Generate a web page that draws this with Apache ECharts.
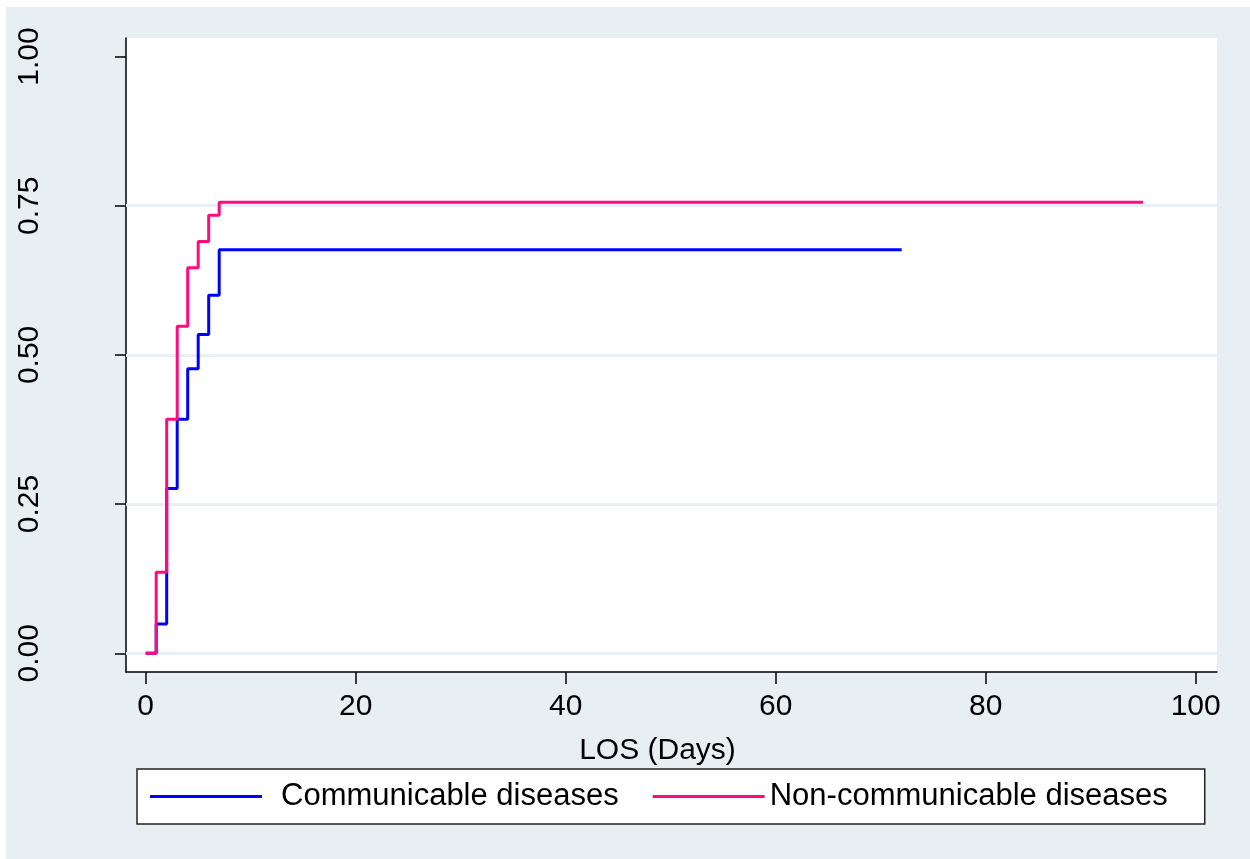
<!DOCTYPE html>
<html>
<head>
<meta charset="utf-8">
<script src="https://cdn.jsdelivr.net/npm/echarts@6/dist/echarts.min.js"></script>
<style>
  html, body { margin: 0; padding: 0; background: #fff; }
  #chart {
    width: 1250px;
    height: 859px;
    background: linear-gradient(#e8eff2, #e8eff2) 6px 7px / calc(100% - 6px) calc(100% - 7px) no-repeat, #fff;
  }
</style>
</head>
<body>
<div id="chart"></div>
<script>
// Kaplan-Meier style failure curves by disease group
const commDays = [0, 1, 2, 3, 4, 5, 6, 7, 72];
const commValues = [0, 0.049, 0.276, 0.392, 0.477, 0.534, 0.600, 0.676, 0.676];
const nonCommDays = [0, 1, 2, 3, 4, 5, 6, 7, 95];
const nonCommValues = [0, 0.136, 0.392, 0.548, 0.646, 0.690, 0.734, 0.756, 0.756];

const xTicks = [0, 20, 40, 60, 80, 100];
const yTicks = [0, 0.25, 0.5, 0.75, 1];
const gridValues = [0, 0.25, 0.5, 0.75];

const seriesNames = ['Communicable diseases', 'Non-communicable diseases'];
const colors = ['#0000ff', '#ff0a7f'];

const font = '"Liberation Sans", Arial, sans-serif';

function pairs(xs, ys) {
  return xs.map((x, i) => [x, ys[i]]);
}

const chart = echarts.init(document.getElementById('chart'), null, {renderer: 'canvas'});

const option = {
  backgroundColor: 'transparent',
  animation: false,
  textStyle: {fontFamily: font, color: '#000'},
  grid: {
    left: 126,
    right: 33,
    top: 38,
    bottom: 187,
    show: true,
    backgroundColor: '#fff',
    borderWidth: 0
  },
  legend: {
    left: 137,
    top: 769,
    orient: 'horizontal',
    icon: 'rect',
    itemWidth: 112,
    itemHeight: 3,
    itemGap: 34,
    padding: [12, 37, 12, 13],
    backgroundColor: '#fff',
    borderColor: '#222',
    borderWidth: 1.5,
    borderRadius: 0,
    textStyle: {fontSize: 31, color: '#000', fontFamily: font},
    data: [
      {name: seriesNames[0], textStyle: {padding: [0, 0, 0, 14]}},
      {name: seriesNames[1]}
    ]
  },
  xAxis: {
    type: 'value',
    min: -1.876,
    max: 102.03,
    name: 'LOS (Days)',
    nameLocation: 'middle',
    nameGap: 64,
    nameTextStyle: {fontSize: 30, color: '#000', fontFamily: font, padding: [0, 28, 0, 0]},
    axisLine: {show: true, onZero: false, lineStyle: {color: '#000', width: 1.5}},
    axisTick: {show: true, length: 12, lineStyle: {color: '#000', width: 1.5}, customValues: xTicks},
    axisLabel: {fontSize: 30, color: '#000', margin: 20, customValues: xTicks, fontFamily: font},
    splitLine: {show: false}
  },
  yAxis: {
    type: 'value',
    min: -0.0313,
    max: 1.031,
    axisLine: {show: true, onZero: false, lineStyle: {color: '#000', width: 1.5}},
    axisTick: {show: true, length: 11, lineStyle: {color: '#000', width: 1.5}, customValues: yTicks},
    axisLabel: {
      fontSize: 30,
      color: '#000',
      rotate: 90,
      align: 'center',
      verticalAlign: 'middle',
      margin: 96,
      customValues: yTicks,
      fontFamily: font,
      formatter: v => v.toFixed(2)
    },
    splitLine: {show: false}
  },
  series: [
    {
      // gridlines
      type: 'line',
      data: [],
      silent: true,
      z: 1,
      markLine: {
        silent: true,
        z: 1,
        symbol: 'none',
        label: {show: false},
        lineStyle: {color: '#e9f0f3', width: 3, type: 'solid'},
        data: gridValues.map(v => ({yAxis: v}))
      }
    },
    {
      name: seriesNames[0],
      type: 'line',
      step: 'end',
      symbol: 'none',
      z: 3,
      color: colors[0],
      lineStyle: {color: colors[0], width: 3},
      data: pairs(commDays, commValues)
    },
    {
      name: seriesNames[1],
      type: 'line',
      step: 'end',
      symbol: 'none',
      z: 4,
      color: colors[1],
      lineStyle: {color: colors[1], width: 3},
      data: pairs(nonCommDays, nonCommValues)
    }
  ]
};

chart.setOption(option);
</script>
</body>
</html>
